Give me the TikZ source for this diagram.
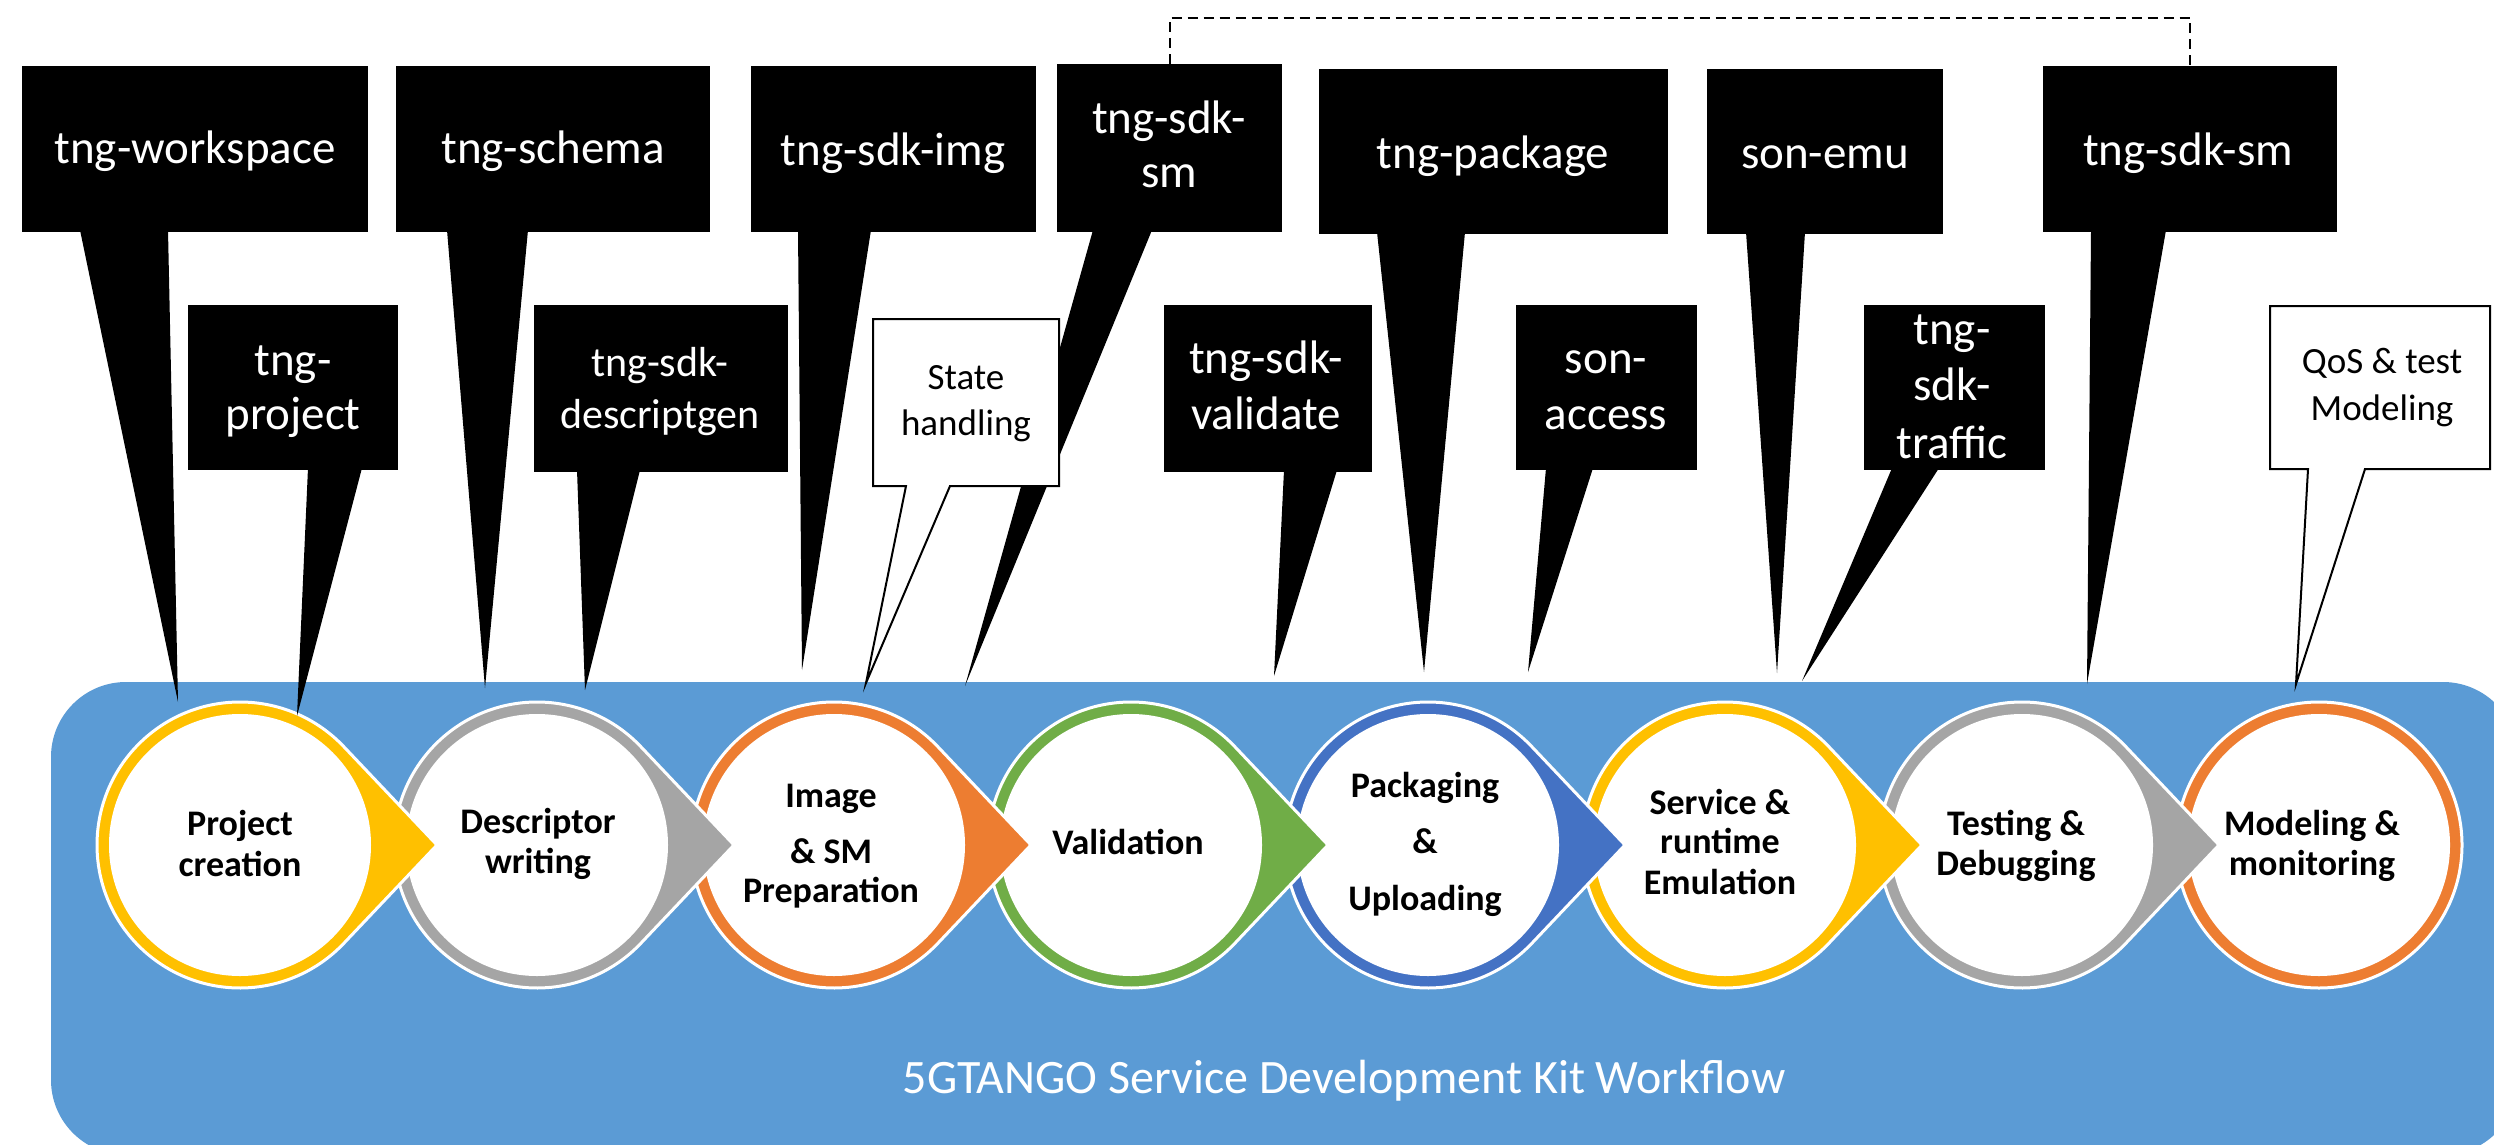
\documentclass[tikz,border=0pt]{standalone}
\usepackage{fontspec}
\setmainfont{Carlito}
\definecolor{bg}{HTML}{5B9BD5}
\definecolor{cyel}{HTML}{FFC000}
\definecolor{cgray}{HTML}{A5A5A5}
\definecolor{corg}{HTML}{ED7D31}
\definecolor{cgrn}{HTML}{70AD47}
\definecolor{cblu}{HTML}{4472C4}
\tikzset{
  blk/.style={fill=black, draw=none, inner sep=0pt},
  wht/.style={fill=white, draw=black, line width=2pt},
  btxt/.style={text=white, anchor=base, inner sep=0pt, font=\fontsize{47}{55}\selectfont},
  dtxt/.style={text=white, anchor=base, inner sep=0pt, font=\fontsize{42}{50}\selectfont},
  stxt/.style={text=black, anchor=base, inner sep=0pt, font=\fontsize{37}{45}\selectfont},
  ctxt/.style={text=black, anchor=base, inner sep=0pt, font=\bfseries\fontsize{36}{41}\selectfont},
  ttxt/.style={text=white, anchor=base, inner sep=0pt, font=\fontsize{48}{56}\selectfont},
  dashlink/.style={draw=black, line width=2pt, dash pattern=on 10pt off 6pt},
}
% name, x1, x2, y1, y2, b1, b2, tipx, tipy
\newcommand\blkcall[9]{%
  \pgfmathsetmacro\mycw{#3-#2}\pgfmathsetmacro\mych{#5-#4}%
  \pgfmathsetmacro\mycx{(#2+#3)/2}\pgfmathsetmacro\mycy{(#4+#5)/2}%
  \node[blk, minimum width=\mycw pt, minimum height=\mych pt] (#1) at (\mycx,\mycy) {};
  \coordinate (#1-tip) at (#8,#9);
  \fill[black] ({#6},{#5-2}) -- (#1-tip) -- ({#7},{#5-2}) -- cycle;
}
\newcommand\whtcall[9]{%
  \pgfmathsetmacro\mycw{#3-#2}\pgfmathsetmacro\mych{#5-#4}%
  \pgfmathsetmacro\mycx{(#2+#3)/2}\pgfmathsetmacro\mycy{(#4+#5)/2}%
  \coordinate (#1-tip) at (#8,#9);
  \path[wht] (#2,#4) -- (#3,#4) -- (#3,#5) -- (#7,#5) -- (#1-tip) -- (#6,#5) -- (#2,#5) -- cycle;
  \node[inner sep=0pt, minimum width=\mycw pt, minimum height=\mych pt] (#1) at (\mycx,\mycy) {};
}
% name, cx, colour
\newcommand\teardrop[3]{%
  \coordinate (#1) at (#2,845);
  \path[fill=#3, draw=white, line width=3pt] (#1) ++(43.45:143pt)
    arc[start angle=43.45, end angle=316.55, radius=143pt] -- ({#2+197},845) -- cycle;
  \fill[white] (#1) circle[radius=131pt];
}
\begin{document}
\begin{tikzpicture}[x=1pt, y=-1pt]
\useasboundingbox (0,0) rectangle (2494,1145);
\clip (0,0) rectangle (2494,1145);
\fill[white] (0,0) rectangle (2494,1145);
% background band
\fill[bg, rounded corners=75pt] (51,682) rectangle (2518,1155);
\node[ttxt] (title) at (1344,1093) {5GTANGO Service Development Kit Workflow};

% workflow circles, right to left
\coordinate (c8) at (2319,845);
\path[fill=corg, draw=white, line width=3pt] (c8) circle[radius=143pt];
\fill[white] (c8) circle[radius=131pt];
\teardrop{c7}{2022}{cgray}
\teardrop{c6}{1725}{cyel}
\teardrop{c5}{1428}{cblu}
\teardrop{c4}{1131}{cgrn}
\teardrop{c3}{834}{corg}
\teardrop{c2}{537}{cgray}
\teardrop{c1}{240}{cyel}

\node[ctxt] (t1a) at (240,835) {Project};
\node[ctxt] (t1b) at (240,876) {creation};
\node[ctxt] (t2a) at (538,833) {Descriptor};
\node[ctxt] (t2b) at (538,873) {writing};
\node[ctxt] (t3a) at (831,807) {Image};
\node[ctxt] (t3b) at (831,863) {\& SM};
\node[ctxt] (t3c) at (831,902) {Preparation};
\node[ctxt] (t4a) at (1128,854) {Validation};
\node[ctxt] (t5a) at (1425,797) {Packaging};
\node[ctxt] (t5b) at (1425,853) {\&};
\node[ctxt] (t5c) at (1425,910) {Uploading};
\node[ctxt] (t6a) at (1720,814) {Service \&};
\node[ctxt] (t6b) at (1720,853) {runtime};
\node[ctxt] (t6c) at (1720,894) {Emulation};
\node[ctxt] (t7a) at (2016,835) {Testing \&};
\node[ctxt] (t7b) at (2016,875) {Debugging};
\node[ctxt] (t8a) at (2312,835) {Modeling \&};
\node[ctxt] (t8b) at (2312,875) {monitoring};

% black callouts
\blkcall{ws}{22}{368}{66}{232}{80}{168}{178}{702}
\blkcall{sc}{396}{710}{66}{232}{447}{528}{485}{688}
\blkcall{img}{751}{1036}{66}{232}{798}{871}{802}{670}
\blkcall{smA}{1057}{1282}{64}{232}{1093}{1152}{965}{686}
\blkcall{pk}{1319}{1668}{69}{234}{1377}{1465}{1424}{672}
\blkcall{emu}{1707}{1943}{69}{234}{1746}{1805}{1777}{673}
\blkcall{smB}{2043}{2337}{66}{232}{2091}{2166}{2087}{684}
\blkcall{pj}{188}{398}{305}{470}{308}{362}{297}{716}
\blkcall{dg}{534}{788}{305}{472}{577}{640}{585}{690}
\blkcall{val}{1164}{1372}{305}{472}{1284}{1337}{1274}{676}
\blkcall{acc}{1516}{1697}{305}{470}{1546}{1593}{1528}{672}
\blkcall{trf}{1864}{2045}{305}{470}{1892}{1939}{1802}{681}
% white callouts
\whtcall{st}{873}{1059}{319}{486}{906}{950}{866}{683}
\whtcall{qos}{2270}{2490}{306}{469}{2308}{2365}{2296}{684}

% dashed link between the two tng-sdk-sm boxes
\draw[dashlink] (smA.north) -- ++(0,-46) -| (smB.north);

% callout texts
\node[btxt] (ws-t) at (195,164) {tng-workspace};
\node[btxt] (sc-t) at (553,164) {tng-schema};
\node[btxt] (img-t) at (893,165) {tng-sdk-img};
\node[btxt] (smA-t1) at (1169,133) {tng-sdk-};
\node[btxt] (smA-t2) at (1169,187) {sm};
\node[btxt] (pk-t) at (1493,168) {tng-package};
\node[btxt] (emu-t) at (1825,168) {son-emu};
\node[btxt] (smB-t) at (2188,165) {tng-sdk-sm};
\node[btxt] (pj-t1) at (293,375) {tng-};
\node[btxt] (pj-t2) at (293,429) {project};
\node[dtxt] (dg-t1) at (660,376) {tng-sdk-};
\node[dtxt] (dg-t2) at (660,428) {descriptgen};
\node[btxt] (val-t1) at (1266,373) {tng-sdk-};
\node[btxt] (val-t2) at (1266,429) {validate};
\node[btxt] (acc-t1) at (1606,373) {son-};
\node[btxt] (acc-t2) at (1606,429) {access};
\node[btxt] (trf-t1) at (1952,344) {tng-};
\node[btxt] (trf-t2) at (1952,400) {sdk-};
\node[btxt] (trf-t3) at (1952,458) {traffic};
\node[stxt] (st-t1) at (966,389) {State};
\node[stxt] (st-t2) at (966,435) {handling};
\node[stxt] (qos-t1) at (2382,373) {QoS \& test};
\node[stxt] (qos-t2) at (2382,420) {Modeling};
\end{tikzpicture}
\end{document}
